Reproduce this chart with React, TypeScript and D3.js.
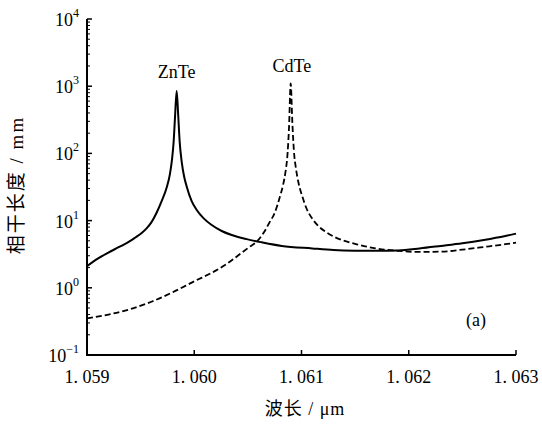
import React from "react";
import * as d3 from "d3";

const znteLambda = [1.059, 1.0591, 1.0592, 1.0593, 1.0594, 1.05945, 1.05951, 1.05956, 1.0596, 1.05965, 1.059696, 1.059743, 1.059774, 1.059794, 1.059808, 1.05982, 1.059836, 1.05985, 1.059864, 1.059883, 1.059906, 1.05993, 1.059976, 1.060023, 1.060088, 1.060163, 1.060256, 1.060349, 1.060489, 1.06063, 1.060816, 1.0611, 1.0613, 1.0615, 1.0617, 1.0619, 1.0621, 1.0623, 1.0625, 1.0627, 1.0629, 1.063];
const znteLength = [2.1, 2.72, 3.35, 4.05, 4.95, 5.6, 6.55, 7.8, 9.4, 13.2, 19.5, 31, 50, 85, 150, 330, 850, 380, 150, 75, 45, 32, 19.5, 14.4, 10.8, 8.6, 7.0, 6.1, 5.3, 4.75, 4.2, 3.85, 3.65, 3.57, 3.55, 3.6, 3.85, 4.2, 4.6, 5.15, 5.9, 6.4];

const cdteLambda = [1.059, 1.0592, 1.0594, 1.0596, 1.0598, 1.06, 1.0602, 1.0603, 1.0604, 1.0605, 1.0606, 1.06065, 1.0607, 1.06075, 1.0608, 1.06083, 1.06085, 1.06087, 1.060884, 1.060899, 1.060915, 1.060929, 1.060948, 1.060973, 1.061011, 1.061048, 1.061095, 1.061151, 1.061226, 1.0613, 1.0615, 1.0617, 1.0619, 1.0621, 1.0623, 1.0625, 1.0627, 1.0629, 1.063];
const cdteLength = [0.35, 0.4, 0.48, 0.62, 0.86, 1.25, 1.8, 2.25, 2.95, 3.9, 5.2, 6.7, 9.3, 13, 23, 35, 52, 100, 250, 1100, 280, 110, 60, 36, 22, 15, 11, 8.5, 6.8, 5.8, 4.5, 3.85, 3.55, 3.42, 3.45, 3.7, 4.05, 4.45, 4.7];

const xTicks = [1.059, 1.06, 1.061, 1.062, 1.063];
const xTickLabels = ["1. 059", "1. 060", "1. 061", "1. 062", "1. 063"];
const yTickExps = [-1, 0, 1, 2, 3, 4];
const seriesNames = ["ZnTe", "CdTe"];

const W = 542;
const H = 425;
const left = 87;
const right = 516;
const top = 19;
const bottom = 355;
const serif = "'Liberation Serif', 'Times New Roman', serif";
const cjk = "'Liberation Serif', 'Noto Sans CJK SC', serif";

export default function App() {
  const x = d3.scaleLinear().domain([1.059, 1.063]).range([left, right]);
  const y = d3.scaleLog().domain([0.1, 1e4]).range([bottom, top]);

  const line = d3
    .line<[number, number]>()
    .x((d) => x(d[0]))
    .y((d) => y(d[1]))
    .curve(d3.curveMonotoneX);

  const zn = znteLambda.map((l, i) => [l, znteLength[i]] as [number, number]);
  const cd = cdteLambda.map((l, i) => [l, cdteLength[i]] as [number, number]);

  const minor: number[] = [];
  for (let e = -1; e < 4; e++) {
    for (let m = 2; m <= 9; m++) minor.push(m * Math.pow(10, e));
  }

  return (
    <svg width={W} height={H} style={{ position: "absolute", left: 0, top: 0, background: "#fff" }}>
      <rect x={0} y={0} width={W} height={H} fill="#fff" />
      {/* curves */}
      <path d={line(zn) || ""} fill="none" stroke="#000" strokeWidth={2} />
      <path d={line(cd) || ""} fill="none" stroke="#000" strokeWidth={1.8} strokeDasharray="6,3" />

      {/* axes */}
      <line x1={left} x2={left} y1={top} y2={bottom} stroke="#000" strokeWidth={2} />
      <line x1={left - 1} x2={right} y1={bottom} y2={bottom} stroke="#000" strokeWidth={2} />

      {minor.map((v, i) => (
        <line key={"m" + i} x1={left} x2={left + 3} y1={y(v)} y2={y(v)} stroke="#000" strokeWidth={1} />
      ))}
      {yTickExps.map((e) => (
        <g key={"y" + e}>
          <line x1={left} x2={left + 5} y1={y(Math.pow(10, e))} y2={y(Math.pow(10, e))} stroke="#000" strokeWidth={1.5} />
          <text x={79} y={y(Math.pow(10, e)) + 7} textAnchor="end" fontFamily={serif} fontSize={18} fill="#000">
            <tspan>10</tspan>
            <tspan dy={-9} fontSize={12}>{e < 0 ? "\u2212" + Math.abs(e) : String(e)}</tspan>
          </text>
        </g>
      ))}

      {xTicks.map((t, i) => (
        <g key={"x" + i}>
          <line x1={x(t)} x2={x(t)} y1={bottom} y2={bottom - 5} stroke="#000" strokeWidth={1.5} />
          <text x={x(t)} y={383} textAnchor="middle" fontFamily={serif} fontSize={18} fill="#000">
            {xTickLabels[i]}
          </text>
        </g>
      ))}

      {/* labels */}
      <text x={x(1.059836)} y={78} textAnchor="middle" fontFamily={serif} fontSize={18} fill="#000">
        {seriesNames[0]}
      </text>
      <text x={x(1.06091)} y={72} textAnchor="middle" fontFamily={serif} fontSize={18} fill="#000">
        {seriesNames[1]}
      </text>
      <text x={476} y={326} textAnchor="middle" fontFamily={serif} fontSize={18} fill="#000">
        (a)
      </text>

      <text x={305} y={415} textAnchor="middle" fontFamily={cjk} fontSize={18} letterSpacing={1} fill="#000">
        波长 / μm
      </text>
      <text
        transform={`translate(23, ${(top + bottom) / 2 - 2}) rotate(-90)`}
        textAnchor="middle"
        fontFamily={cjk}
        fontSize={19}
        letterSpacing={2}
        fill="#000"
      >
        相干长度 / mm
      </text>
    </svg>
  );
}
